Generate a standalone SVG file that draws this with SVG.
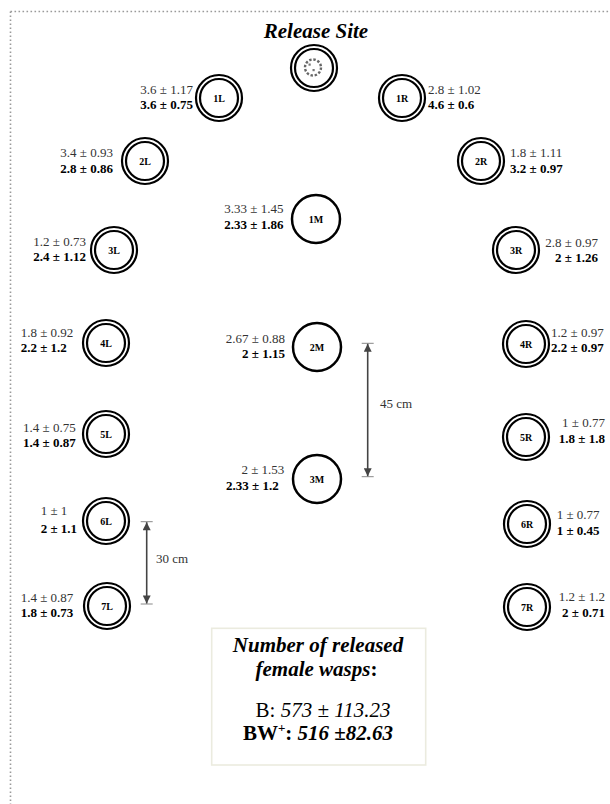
<svg xmlns="http://www.w3.org/2000/svg" width="610" height="804" viewBox="0 0 610 804">
<defs>
<style>
text{font-family:"Liberation Serif","Times New Roman",serif}
.o{fill:none;stroke:#000;stroke-width:2.2}
.s{fill:none;stroke:#000;stroke-width:2.5}
.nl{font-size:10px;font-weight:bold;text-anchor:middle;fill:#000}
.r{font-size:13px;fill:#333}
.b{font-size:13px;font-weight:bold;fill:#000}
.e{text-anchor:end}
.dim{stroke:#444;stroke-width:1.6}
.tick{stroke:#888;stroke-width:1}
.dl{font-size:13px;fill:#333}
.big{font-size:21px;fill:#000}
</style>
<marker id="ah2" viewBox="0 0 10 10" refX="10" refY="5" markerWidth="9" markerHeight="8" orient="auto-start-reverse" markerUnits="userSpaceOnUse">
<path d="M0,0 L10,5 L0,10 Z" fill="#444"/>
</marker>
</defs>
<rect width="610" height="804" fill="#fff"/>
<g id="frame" fill="none" stroke="#9a9a9a" stroke-width="1.6" stroke-dasharray="1.6 2.4">
<line x1="10.5" y1="11.5" x2="610" y2="11.5"/>
<line x1="10.5" y1="11.5" x2="10.5" y2="804"/>
</g>
<text x="316" y="38" class="big" font-weight="bold" font-style="italic" text-anchor="middle">Release Site</text>
<g id="release">
<circle cx="314" cy="68" r="23" class="o"/>
<circle cx="314" cy="68" r="19" class="o"/>
<circle cx="313" cy="67.5" r="8" fill="none" stroke="#666" stroke-width="2.4" stroke-dasharray="2.4 1.8"/>
<rect x="308.5" y="63.5" width="2.2" height="2.2" fill="#777"/>
<rect x="312.5" y="69" width="2.2" height="2.2" fill="#777"/>
</g>
<g id="n1L"><circle cx="219" cy="98" r="23" class="o"/><circle cx="219" cy="98" r="19" class="o"/><text x="219" y="101.5" class="nl">1L</text>
<text x="193" y="93.5" class="r e">3.6 ± 1.17</text><text x="193" y="109" class="b e">3.6 ± 0.75</text></g>
<g id="n1R"><circle cx="402" cy="98" r="23" class="o"/><circle cx="402" cy="98" r="19" class="o"/><text x="402" y="101.5" class="nl">1R</text>
<text x="428" y="93.5" class="r">2.8 ± 1.02</text><text x="428" y="109" class="b">4.6 ± 0.6</text></g>
<g id="n2L"><circle cx="145" cy="161" r="23" class="o"/><circle cx="145" cy="161" r="19" class="o"/><text x="145" y="164.5" class="nl">2L</text>
<text x="113" y="156.7" class="r e">3.4 ± 0.93</text><text x="113" y="172.7" class="b e">2.8 ± 0.86</text></g>
<g id="n2R"><circle cx="481" cy="161" r="23" class="o"/><circle cx="481" cy="161" r="19" class="o"/><text x="481" y="164.5" class="nl">2R</text>
<text x="510" y="156.7" class="r">1.8 ± 1.11</text><text x="510" y="172.7" class="b">3.2 ± 0.97</text></g>
<g id="n1M"><circle cx="316" cy="219" r="24" class="s"/><text x="316" y="222.5" class="nl">1M</text>
<text x="283.5" y="213" class="r e">3.33 ± 1.45</text><text x="283.5" y="229" class="b e">2.33 ± 1.86</text></g>
<g id="n3L"><circle cx="114" cy="250" r="23" class="o"/><circle cx="114" cy="250" r="19" class="o"/><text x="114" y="253.5" class="nl">3L</text>
<text x="86" y="246" class="r e">1.2 ± 0.73</text><text x="86" y="261" class="b e">2.4 ± 1.12</text></g>
<g id="n3R"><circle cx="516" cy="250" r="23" class="o"/><circle cx="516" cy="250" r="19" class="o"/><text x="516" y="253.5" class="nl">3R</text>
<text x="598" y="246.7" class="r e">2.8 ± 0.97</text><text x="598" y="261.7" class="b e">2 ± 1.26</text></g>
<g id="n4L"><circle cx="106" cy="343" r="23" class="o"/><circle cx="106" cy="343" r="19" class="o"/><text x="106" y="346.5" class="nl">4L</text>
<text x="20.7" y="336.7" class="r">1.8 ± 0.92</text><text x="20.7" y="351.7" class="b">2.2 ± 1.2</text></g>
<g id="n4R"><circle cx="526" cy="344" r="23" class="o"/><circle cx="526" cy="344" r="19" class="o"/><text x="526" y="347.5" class="nl">4R</text>
<text x="551" y="336.7" class="r">1.2 ± 0.97</text><text x="551" y="351.7" class="b">2.2 ± 0.97</text></g>
<g id="n2M"><circle cx="317" cy="347" r="24" class="s"/><text x="317" y="350.5" class="nl">2M</text>
<text x="285" y="343" class="r e">2.67 ± 0.88</text><text x="285" y="358" class="b e">2 ± 1.15</text></g>
<g id="n5L"><circle cx="106" cy="434" r="23" class="o"/><circle cx="106" cy="434" r="19" class="o"/><text x="106" y="437.5" class="nl">5L</text>
<text x="23" y="431.7" class="r">1.4 ± 0.75</text><text x="23" y="446.7" class="b">1.4 ± 0.87</text></g>
<g id="n5R"><circle cx="526" cy="437" r="23" class="o"/><circle cx="526" cy="437" r="19" class="o"/><text x="526" y="440.5" class="nl">5R</text>
<text x="605" y="426.7" class="r e">1 ± 0.77</text><text x="605" y="442.7" class="b e">1.8 ± 1.8</text></g>
<g id="n3M"><circle cx="317" cy="479" r="24" class="s"/><text x="317" y="482.5" class="nl">3M</text>
<text x="284.3" y="474" class="r e">2 ± 1.53</text><text x="226" y="490" class="b">2.33 ± 1.2</text></g>
<g id="n6L"><circle cx="106" cy="521" r="23" class="o"/><circle cx="106" cy="521" r="19" class="o"/><text x="106" y="524.5" class="nl">6L</text>
<text x="40.7" y="515" class="r">1 ± 1</text><text x="40.7" y="533.3" class="b">2 ± 1.1</text></g>
<g id="n6R"><circle cx="527" cy="524" r="23" class="o"/><circle cx="527" cy="524" r="19" class="o"/><text x="527" y="527.5" class="nl">6R</text>
<text x="556.7" y="519" class="r">1 ± 0.77</text><text x="556.7" y="535" class="b">1 ± 0.45</text></g>
<g id="n7L"><circle cx="107" cy="606" r="23" class="o"/><circle cx="107" cy="606" r="19" class="o"/><text x="107" y="609.5" class="nl">7L</text>
<text x="20.7" y="601.7" class="r">1.4 ± 0.87</text><text x="20.7" y="616.7" class="b">1.8 ± 0.73</text></g>
<g id="n7R"><circle cx="527" cy="607" r="23" class="o"/><circle cx="527" cy="607" r="19" class="o"/><text x="527" y="610.5" class="nl">7R</text>
<text x="605" y="601" class="r e">1.2 ± 1.2</text><text x="605" y="616.7" class="b e">2 ± 0.71</text></g>
<g id="connectors">
<line x1="361.7" y1="343.3" x2="373.7" y2="343.3" class="tick"/>
<line x1="361.7" y1="476.7" x2="373.7" y2="476.7" class="tick"/>
<line x1="367.7" y1="343.8" x2="367.7" y2="476.2" class="dim" marker-start="url(#ah2)" marker-end="url(#ah2)"/>
<text x="380" y="408.3" class="dl">45 cm</text>
<line x1="140.7" y1="521.7" x2="152.7" y2="521.7" class="tick"/>
<line x1="140.7" y1="604" x2="152.7" y2="604" class="tick"/>
<line x1="146.7" y1="522.2" x2="146.7" y2="603.5" class="dim" marker-start="url(#ah2)" marker-end="url(#ah2)"/>
<text x="156" y="562.7" class="dl">30 cm</text>
</g>
<g id="legend">
<rect x="211.7" y="628.3" width="214" height="136.7" fill="#fff" stroke="#ebebdf" stroke-width="1.6"/>
<text x="318" y="651.7" class="big" font-weight="bold" font-style="italic" text-anchor="middle">Number of released</text>
<text x="316.5" y="676" class="big" font-weight="bold" text-anchor="middle"><tspan font-style="italic">female wasps</tspan>:</text>
<text x="323" y="717.3" class="big" text-anchor="middle">B: <tspan font-style="italic">573 ± 113.23</tspan></text>
<text x="318" y="740" class="big" font-weight="bold" text-anchor="middle">BW<tspan font-size="13px" dy="-8">+</tspan><tspan dy="8">: </tspan><tspan font-style="italic">516 ±82.63</tspan></text>
</g>
</svg>
